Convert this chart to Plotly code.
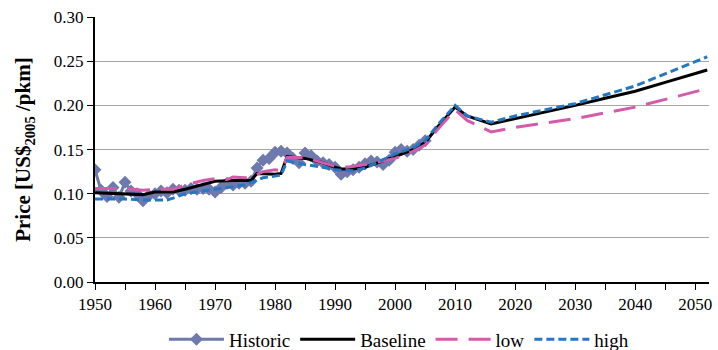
import plotly.graph_objects as go

hist_years = list(range(1950, 2006))
hist = [0.127, 0.104, 0.097, 0.107, 0.096, 0.113, 0.103, 0.100, 0.092, 0.098,
        0.100, 0.103, 0.101, 0.105, 0.104, 0.104, 0.106, 0.105, 0.106, 0.105,
        0.102, 0.107, 0.112, 0.110, 0.112, 0.112, 0.114, 0.129, 0.138, 0.140,
        0.147, 0.148, 0.146, 0.140, 0.135, 0.146, 0.143, 0.137, 0.135, 0.133,
        0.130, 0.122, 0.125, 0.127, 0.130, 0.134, 0.137, 0.136, 0.133, 0.138,
        0.147, 0.150, 0.148, 0.150, 0.155, 0.160]

base_years = [1950, 1955, 1958, 1960, 1963, 1965, 1968, 1970, 1973, 1975, 1976, 1977,
              1980, 1981, 1982, 1985, 1988, 1990, 1991, 1993, 1995, 2000, 2003, 2005,
              2007, 2010, 2012, 2016, 2020, 2025, 2030, 2035, 2040, 2045, 2052]
baseline = [0.101, 0.100, 0.099, 0.102, 0.102, 0.105, 0.110, 0.114, 0.115, 0.115, 0.115, 0.123,
            0.122, 0.123, 0.142, 0.140, 0.135, 0.130, 0.128, 0.128, 0.130, 0.142, 0.150, 0.158,
            0.175, 0.198, 0.188, 0.179, 0.185, 0.192, 0.200, 0.208, 0.216, 0.226, 0.240]

low_years = [1950, 1955, 1958, 1960, 1963, 1965, 1968, 1970, 1972, 1973, 1975, 1976, 1977,
             1978, 1980, 1981, 1982, 1985, 1990, 1992, 1995, 2000, 2003, 2005, 2007, 2010,
             2012, 2016, 2020, 2030, 2040, 2052]
low = [0.106, 0.106, 0.104, 0.105, 0.105, 0.110, 0.115, 0.117, 0.116, 0.119, 0.118, 0.118, 0.122,
       0.125, 0.127, 0.126, 0.141, 0.141, 0.131, 0.130, 0.133, 0.140, 0.148, 0.155, 0.172, 0.195,
       0.183, 0.170, 0.175, 0.185, 0.198, 0.219]

high_years = [1950, 1955, 1958, 1960, 1962, 1963, 1965, 1970, 1975, 1978, 1980, 1981, 1982,
              1985, 1988, 1990, 1993, 1995, 2000, 2003, 2005, 2007, 2010, 2012, 2016, 2020,
              2030, 2040, 2052]
high = [0.094, 0.094, 0.093, 0.093, 0.093, 0.095, 0.100, 0.105, 0.110, 0.118, 0.120, 0.121, 0.137,
        0.133, 0.130, 0.127, 0.126, 0.129, 0.145, 0.152, 0.160, 0.177, 0.200, 0.188, 0.181, 0.188,
        0.202, 0.222, 0.255]

x_tickvals = list(range(1950, 2051, 5))
x_ticktext = [str(v) if v % 10 == 0 else "" for v in x_tickvals]
y_tickvals = [0.00, 0.05, 0.10, 0.15, 0.20, 0.25, 0.30]
y_ticktext = ["0.00", "0.05", "0.10", "0.15", "0.20", "0.25", "0.30"]

FONT = "Times New Roman, Liberation Serif, serif"

fig = go.Figure()
fig.add_trace(go.Scatter(x=hist_years, y=hist, name="Historic", mode="lines+markers",
                         line=dict(color="#6E79AE", width=3),
                         marker=dict(symbol="diamond", size=10, color="#6E79AE")))
fig.add_trace(go.Scatter(x=base_years, y=baseline, name="Baseline", mode="lines",
                         line=dict(color="black", width=3)))
fig.add_trace(go.Scatter(x=low_years, y=low, name="low", mode="lines",
                         line=dict(color="#D45BAA", width=3, dash="22px,11px")))
fig.add_trace(go.Scatter(x=high_years, y=high, name="high", mode="lines",
                         line=dict(color="#2478C2", width=3, dash="8px,4px")))

fig.update_layout(
    width=718, height=350,
    margin=dict(l=95, r=6, t=17, b=65),
    paper_bgcolor="white", plot_bgcolor="white",
    font=dict(family=FONT, size=17, color="black"),
    showlegend=True,
    legend=dict(orientation="h", x=0.495, xanchor="center",
                yref="container", y=0.03, yanchor="middle",
                font=dict(family=FONT, size=19), itemwidth=55, tracegroupgap=0,
                bgcolor="rgba(0,0,0,0)"),
    xaxis=dict(range=[1950, 2052.3], tickvals=x_tickvals, ticktext=x_ticktext,
               ticks="outside", ticklen=6, tickwidth=1, tickcolor="black",
               showline=True, linecolor="black", linewidth=2, showgrid=False,
               zeroline=False, tickfont=dict(family=FONT, size=17)),
    yaxis=dict(range=[0, 0.30], tickvals=y_tickvals, ticktext=y_ticktext,
               ticks="outside", ticklen=6, tickwidth=1, tickcolor="black",
               showline=True, linecolor="black", linewidth=2,
               showgrid=True, gridcolor="#A6A6A6", gridwidth=1, zeroline=False,
               tickfont=dict(family=FONT, size=17),
               title=dict(text="<b>Price [US$<sub>2005</sub> /pkm]</b>",
                          font=dict(family=FONT, size=21), standoff=17)),
)

fig.write_html("out.html")
